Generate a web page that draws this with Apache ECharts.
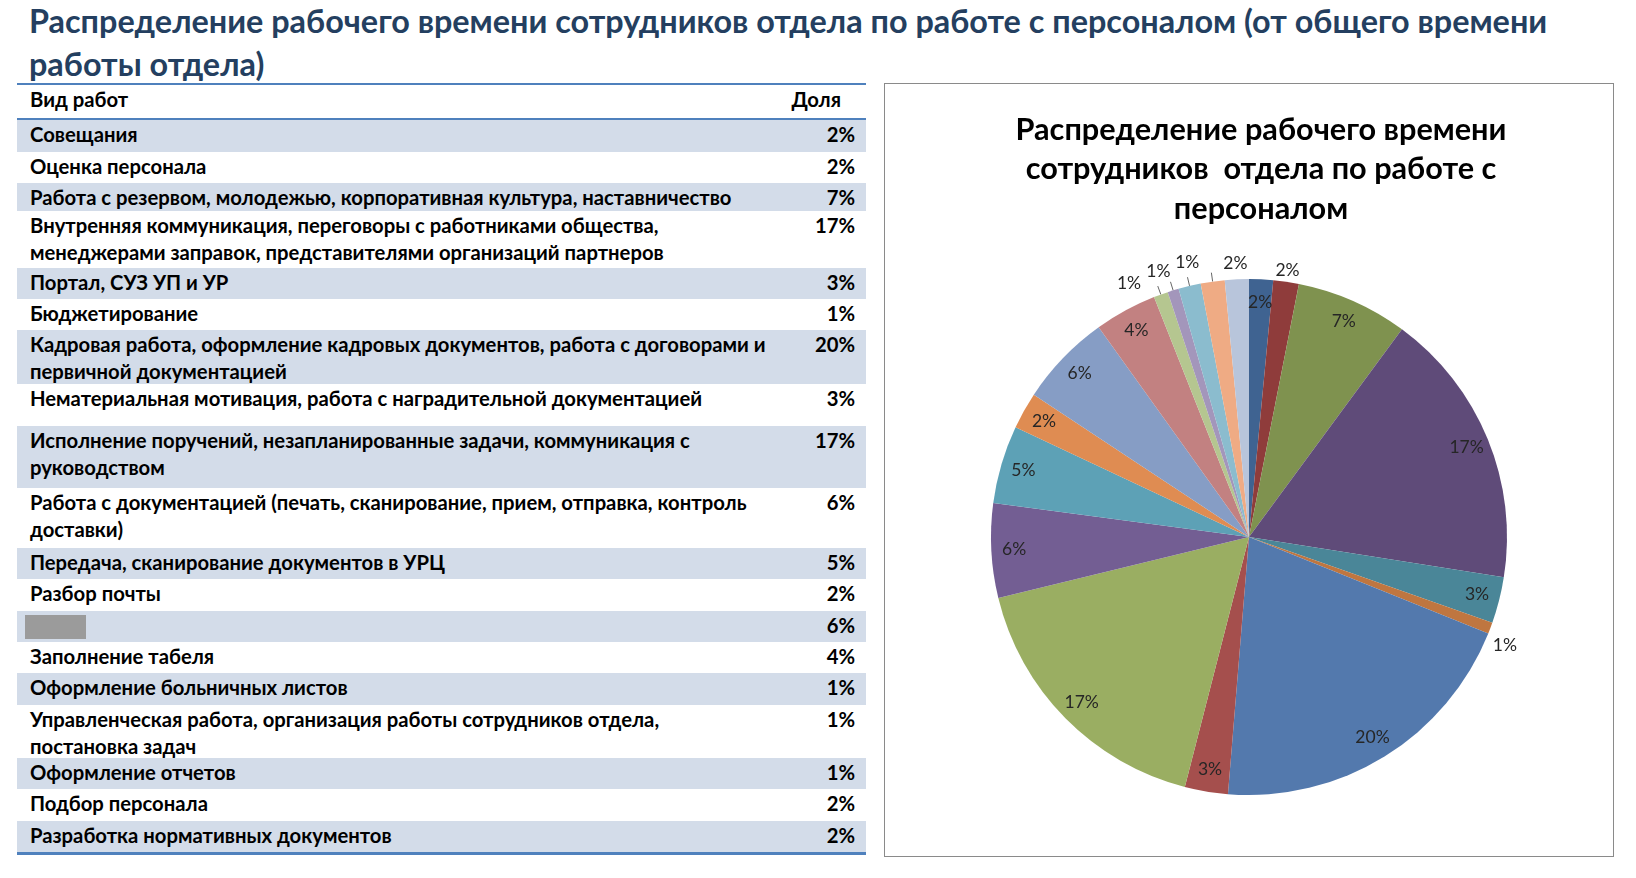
<!DOCTYPE html>
<html lang="ru">
<head>
<meta charset="utf-8">
<title>Распределение рабочего времени</title>
<script src="https://cdn.jsdelivr.net/npm/echarts@6/dist/echarts.min.js"></script>
<style>
html,body{margin:0;padding:0;background:#fff;}
body{width:1636px;height:878px;position:relative;overflow:hidden;}
#title{position:absolute;left:29px;top:0;color:#243F60;font-weight:bold;line-height:42.5px;white-space:pre;}
#table{position:absolute;left:17px;top:83px;width:849px;border-top:2px solid #4F81BD;border-bottom:3px solid #4F81BD;}
.row{position:relative;display:flex;box-sizing:border-box;font-weight:bold;color:#000;line-height:26.5px;padding-top:1px;}
.row .name{flex:1;padding-left:13px;white-space:pre;}
.row .val{width:90px;text-align:right;padding-right:11px;}
.head{height:32px;border-bottom:2px solid #4F81BD;box-sizing:content-box;}
.head .val{padding-right:25px;}
.band{background:#D3DCE9;}
.redacted{position:absolute;left:8px;top:4px;width:61px;height:24px;background:#9B9B9B;}
#chart{position:absolute;left:884px;top:83px;width:730px;height:774px;box-sizing:border-box;border:1px solid #8A8A8A;}
</style>
</head>
<body>
<div id="title"></div>
<div id="table"></div>
<div id="chart"></div>
<script>
// ---- data ----
const pageTitle = 'Распределение рабочего времени сотрудников отдела по работе с персоналом (от общего времени\nработы отдела)';
const headerLabels = ['Вид работ', 'Доля'];
const categories = [
  'Совещания',
  'Оценка персонала',
  'Работа с резервом, молодежью, корпоративная культура, наставничество',
  'Внутренняя коммуникация, переговоры с работниками общества,\nменеджерами заправок, представителями организаций партнеров',
  'Портал, СУЗ УП и УР',
  'Бюджетирование',
  'Кадровая работа, оформление кадровых документов, работа с договорами и\nпервичной документацией',
  'Нематериальная мотивация, работа с наградительной документацией',
  'Исполнение поручений, незапланированные задачи, коммуникация с\nруководством',
  'Работа с документацией (печать, сканирование, прием, отправка, контроль\nдоставки)',
  'Передача, сканирование документов в УРЦ',
  'Разбор почты',
  '',
  'Заполнение табеля',
  'Оформление больничных листов',
  'Управленческая работа, организация работы сотрудников отдела,\nпостановка задач',
  'Оформление отчетов',
  'Подбор персонала',
  'Разработка нормативных документов'
];
// table column "Доля", %
const shares = [2, 2, 7, 17, 3, 1, 20, 3, 17, 6, 5, 2, 6, 4, 1, 1, 1, 2, 2];
// slice sizes as measured on the pie, %
const sliceValues = [1.5, 1.6, 7.0, 17.4, 2.9, 0.7, 20.2, 2.7, 17.2, 5.9, 4.9, 2.3, 5.8, 3.9, 0.9, 0.7, 1.4, 1.5, 1.5];
const pieTitle = 'Распределение рабочего времени\nсотрудников  отдела по работе с\nперсоналом';

// ---- layout / style ----
const FONT = 'Lato, "Open Sans", "Noto Sans", sans-serif';
const rowHeights = [32, 31, 28, 57, 31, 31, 54, 42, 62, 60, 31, 32, 31, 31, 32, 53, 31, 32, 31];
const palette = ['#3F6391','#8F3C3B','#7F924F','#5F4B79','#4A8698','#BF7640','#5379AD','#A54F4D','#9AAE62','#735E93',
                 '#5DA1B6','#DF8C52','#869DC5','#C28181','#B5C690','#A396BB','#8BBCCE','#EFAB84','#B8C5DB'];
const outerIdx = [1, 5, 14, 15, 16, 17];
const leaderIdx = [14, 15, 16, 17];
const labelNudge = {1: [-2, 11], 5: [-7, 9], 14: [-24, 10], 15: [-8, 3], 16: [3, -1], 17: [26, 5]};

const mctx = document.createElement('canvas').getContext('2d');
function fitSize(text, weight, target) {
  mctx.font = weight + ' 100px ' + FONT;
  return 100 * target / mctx.measureText(text).width;
}

// ---- page title ----
const titleEl = document.getElementById('title');
titleEl.style.fontFamily = FONT;
titleEl.style.fontSize = fitSize(pageTitle.split('\n')[0], 'bold', 1519) + 'px';
titleEl.textContent = pageTitle;

// ---- table ----
const tableEl = document.getElementById('table');
tableEl.style.fontFamily = FONT;
tableEl.style.fontSize = fitSize(categories[6].split('\n')[0], 'bold', 736) + 'px';
const head = document.createElement('div');
head.className = 'row head';
head.innerHTML = '<div class="name"></div><div class="val"></div>';
head.children[0].textContent = headerLabels[0];
head.children[1].textContent = headerLabels[1];
tableEl.appendChild(head);
categories.forEach((c, i) => {
  const r = document.createElement('div');
  r.className = 'row' + (i % 2 === 0 ? ' band' : '');
  r.style.height = rowHeights[i] + 'px';
  const n = document.createElement('div'); n.className = 'name'; n.textContent = c;
  const v = document.createElement('div'); v.className = 'val'; v.textContent = shares[i] + '%';
  r.appendChild(n); r.appendChild(v);
  if (!c) { const g = document.createElement('div'); g.className = 'redacted'; r.appendChild(g); }
  tableEl.appendChild(r);
});

// ---- pie ----
const chart = echarts.init(document.getElementById('chart'));
const R = 258;
const C = [364, 453];
const labelFont = {fontFamily: FONT, fontSize: 17.5, color: '#262626'};
const transparent = {color: 'rgba(0,0,0,0)', borderWidth: 0};
const baseData = categories.map((c, i) => ({name: c || ('#' + (i + 1)), value: sliceValues[i]}));
const ptSize = fitSize(pieTitle.split('\n')[0], 'bold', 491);

const option = {
  animation: false,
  graphic: [{
    type: 'text', x: 376, y: 26, silent: true,
    style: {
      text: pieTitle, fill: '#000', font: 'bold ' + ptSize.toFixed(2) + 'px ' + FONT,
      align: 'center', verticalAlign: 'top', textAlign: 'center', textVerticalAlign: 'top', lineHeight: 39.5
    }
  }],
  series: [
    {
      type: 'pie', center: C, radius: [0, R], startAngle: 90, clockwise: true, silent: true,
      label: {show: false}, labelLine: {show: false},
      data: baseData.map((d, i) => ({...d, itemStyle: {color: palette[i], borderWidth: 0, borderRadius: 0}}))
    },
    {
      type: 'pie', center: C, radius: [R * 0.8, R], startAngle: 90, clockwise: true, silent: true,
      itemStyle: transparent, labelLine: {show: false},
      label: {show: true, position: 'inside', formatter: p => shares[p.dataIndex] + '%', ...labelFont},
      data: baseData.map((d, i) => outerIdx.includes(i) ? {...d, label: {show: false}} : d)
    },
    {
      type: 'pie', center: C, radius: [R, R + 40], startAngle: 90, clockwise: true, silent: true,
      itemStyle: transparent, labelLine: {show: false},
      label: {show: true, position: 'inside', formatter: p => shares[p.dataIndex] + '%', ...labelFont},
      labelLayout: p => { const o = labelNudge[p.dataIndex] || [0, 0]; return {dx: o[0], dy: o[1]}; },
      data: baseData.map((d, i) => outerIdx.includes(i) ? d : {...d, label: {show: false}})
    },
    {
      type: 'pie', center: C, radius: [0, R], startAngle: 90, clockwise: true, silent: true,
      avoidLabelOverlap: false, itemStyle: transparent,
      label: {show: true, position: 'outside', formatter: ' ', color: 'rgba(0,0,0,0)', fontSize: 4},
      labelLine: {show: true, length: 9, length2: 0, smooth: false, lineStyle: {color: '#666', width: 1}},
      data: baseData.map((d, i) => leaderIdx.includes(i) ? d : {...d, label: {show: false}, labelLine: {show: false}})
    }
  ]
};
chart.setOption(option);
</script>
</body>
</html>
